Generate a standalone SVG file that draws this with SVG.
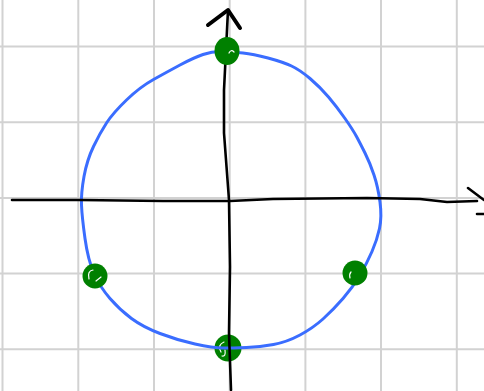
<svg xmlns="http://www.w3.org/2000/svg" width="484" height="391" viewBox="0 0 484 391">
<style>
.grid{stroke:#d2d2d2;stroke-width:2;fill:none}
.axis{stroke:#000;stroke-width:2.6;fill:none;stroke-linecap:round;stroke-linejoin:round}
.circ{stroke:#3a6dff;stroke-width:3;fill:none;stroke-linejoin:round}
.dot{fill:#008000}
.hl{stroke:#fff;stroke-width:1.2;fill:none;stroke-linecap:round}
</style>
<rect width="484" height="391" fill="#fff"/>
<g id="grid" class="grid">
<line x1="2.5" y1="0" x2="2.5" y2="391"/>
<line x1="78.3" y1="0" x2="78.3" y2="391"/>
<line x1="154" y1="0" x2="154" y2="391"/>
<line x1="229.7" y1="0" x2="229.7" y2="391"/>
<line x1="305.4" y1="0" x2="305.4" y2="391"/>
<line x1="381" y1="0" x2="381" y2="391"/>
<line x1="456.8" y1="0" x2="456.8" y2="391"/>
<line x1="0" y1="46.5" x2="484" y2="46.5"/>
<line x1="0" y1="122.2" x2="484" y2="122.2"/>
<line x1="0" y1="198" x2="484" y2="198"/>
<line x1="0" y1="273.6" x2="484" y2="273.6"/>
<line x1="0" y1="349.3" x2="484" y2="349.3"/>
</g>
<g id="dot-bottom">
<ellipse class="dot" cx="228" cy="348" rx="13.5" ry="13.5"/>
<path class="hl" d="M221,352 Q217,345 224,342 M222,356 Q226,357 225,350"/>
</g>
<g id="circle">
<path class="circ" d="M203,54.5 Q213,51 223,51.5 Q233,52 243,53 Q253,54 268,58 Q283,62 291.5,66 Q300,70 310,78.5 Q320,87 328.5,97 Q337,107 345,118.5 Q353,130 356.5,136.5 Q360,143 365,153 Q370,163 374,175 Q378,187 380,202 Q382,217 379.5,228.5 Q377,240 372,251.5 Q367,263 360,275 Q353,287 343,298.5 Q333,310 323,319 Q313,328 300,335 Q287,342 273.5,344.5 Q260,347 246.5,347.5 Q233,348 223,348 Q213,348 195,344 Q177,340 160,333.5 Q143,327 131.5,318.5 Q120,310 110,298.5 Q100,287 94,273.5 Q88,260 85,238.5 Q82,217 81.5,205 Q81,193 84,176.5 Q87,160 93.5,146.5 Q100,133 106.5,123 Q113,113 126.5,100 Q140,87 153.5,79.5 Q167,72 180,65 Q193,58 203,54.5 Z"/>
</g>
<g id="connectors">
<path id="x-axis" class="axis" d="M12,200 L80,200 L163,201 L230,201 L273,199 L367,198 L420,199 L447,202 L477,201"/>
<path id="x-arrow" class="axis" d="M468,188 L484,200 M477,214 L484,214"/>
<path id="y-axis" class="axis" d="M231,390 L229,333 L230,267 L229,200 L224,133 L224,90 L228,10"/>
<path id="y-arrow" class="axis" style="stroke-width:4" d="M208,25 L228,10 L240,28"/>
</g>
<g id="dot-top">
<ellipse class="dot" cx="227" cy="51" rx="12.5" ry="14"/>
<path class="hl" d="M229,53 Q231,49 234,52"/>
</g>
<g id="dot-left">
<ellipse class="dot" cx="95" cy="276" rx="12.5" ry="12.5"/>
<path class="hl" d="M96,281 L101,277 M89,279 Q87,271 93,270"/>
</g>
<g id="dot-right">
<ellipse class="dot" cx="355" cy="273" rx="12.5" ry="12.5"/>
<path class="hl" d="M350,278 Q349,274 351,272"/>
</g>
</svg>
